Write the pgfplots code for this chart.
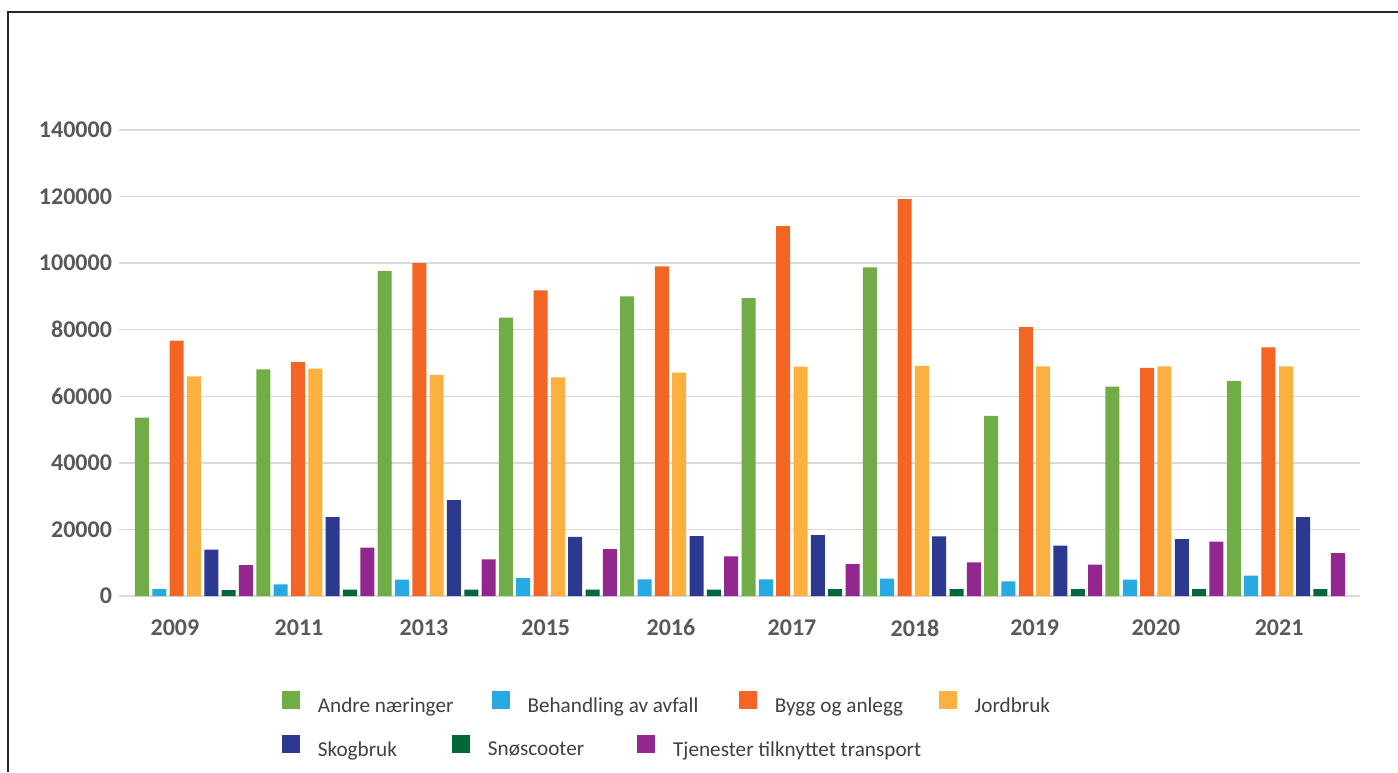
\documentclass[border=0pt]{standalone}
\usepackage{fontspec}
\setmainfont{Carlito}
\usepackage{pgfplots}
\pgfplotsset{compat=1.18}
\usepackage{pgfplotstable}

\definecolor{cA}{HTML}{70AD47}
\definecolor{cB}{HTML}{27AAE1}
\definecolor{cC}{HTML}{F26522}
\definecolor{cD}{HTML}{FBB040}
\definecolor{cE}{HTML}{2B3990}
\definecolor{cF}{HTML}{006838}
\definecolor{cG}{HTML}{92278F}
\definecolor{ticktext}{HTML}{595959}
\definecolor{legtext}{HTML}{404040}
\definecolor{gridc}{HTML}{D9D9D9}

\pgfplotstableread{
i A B C D E F G
0 53600 2100 76700 66000 13900 1800 9300
1 68100 3500 70300 68300 23700 1900 14500
2 97700 4900 100000 66400 28800 1900 11000
3 83600 5400 91800 65700 17800 1900 14100
4 90000 5000 99000 67100 18000 1900 11900
5 89500 5000 111100 68900 18300 2100 9600
6 98700 5200 119200 69100 17900 2100 10100
7 54100 4400 80800 69000 15100 2100 9400
8 62900 4900 68500 69000 17100 2100 16300
9 64600 6100 74700 69000 23700 2100 12900
}\data

\begin{document}
\begin{tikzpicture}
\useasboundingbox (-59.5pt,-88pt) rectangle (639.5pt,298pt);
\draw[line width=0.75pt, black!85] (-55.5pt,-88pt) -- (-55.5pt,292pt) -- (640pt,292pt);
\begin{axis}[
  at={(0pt,0pt)}, anchor=south west,
  scale only axis, width=620.5pt, height=233pt,
  xmin=-0.618, xmax=9.612, ymin=0, ymax=140000,
  axis line style={draw=none},
  major tick length=0pt, tick style={draw=none},
  ymajorgrids, grid style={gridc, line width=0.75pt},
  ytick={0,20000,40000,60000,80000,100000,120000,140000},
  yticklabels={0,20000,40000,60000,80000,100000,120000,140000},
  scaled y ticks=false,
  xtick={-0.157,0.866,1.896,2.900,3.932,4.930,5.944,6.931,7.929,8.945},
  xticklabels={2009,2011,2013,2015,2016,2017,2018,2019,2020,2021},
  ticklabel style={font=\fontsize{12}{14}\selectfont\bfseries, text=ticktext},
  xticklabel style={yshift=-8.2pt},
  ybar=1.667pt, bar width=7pt,
  legend image code/.code={\fill[#1] (0pt,-1.2pt) rectangle (9pt,7.8pt);},
  legend columns=4,
  legend style={at={(0.1309,-0.2339)}, anchor=west, draw=none, fill=none,
    inner sep=0pt, font=\fontsize{10.6}{12}\selectfont, text=legtext,
    /tikz/every odd column/.style={column sep=7pt},
    /tikz/column 2/.style={column sep=17pt},
    /tikz/column 4/.style={column sep=18.2pt},
    /tikz/column 6/.style={column sep=15.7pt}},
]
\addplot[fill=cA, draw=none] table[x=i,y=A]{\data};
\addlegendentry{Andre næringer}
\addplot[fill=cB, draw=none] table[x=i,y=B]{\data};
\addlegendentry{Behandling av avfall}
\addplot[fill=cC, draw=none] table[x=i,y=C]{\data};
\addlegendentry{Bygg og anlegg}
\addplot[fill=cD, draw=none] table[x=i,y=D]{\data};
\addlegendentry{Jordbruk}
\addplot[fill=cE, draw=none] table[x=i,y=E]{\data};
\addplot[fill=cF, draw=none] table[x=i,y=F]{\data};
\addplot[fill=cG, draw=none] table[x=i,y=G]{\data};
\end{axis}
\begin{axis}[
  at={(0pt,0pt)}, anchor=south west,
  scale only axis, width=620.5pt, height=233pt,
  xmin=0, xmax=1, ymin=0, ymax=1, hide axis,
  legend image code/.code={\fill[#1] (0pt,-1.2pt) rectangle (9pt,7.8pt);},
  legend columns=3,
  legend style={at={(0.1309,-0.3283)}, anchor=west, draw=none, fill=none,
    inner sep=0pt, font=\fontsize{10.6}{12}\selectfont, text=legtext,
    /tikz/every odd column/.style={column sep=7pt},
    /tikz/column 2/.style={column sep=25.5pt},
    /tikz/column 4/.style={column sep=24.4pt}},
]
\addlegendimage{fill=cE, draw=none}
\addlegendentry{Skogbruk}
\addlegendimage{fill=cF, draw=none}
\addlegendentry{Snøscooter}
\addlegendimage{fill=cG, draw=none}
\addlegendentry{Tjenester tilknyttet transport}
\end{axis}
\end{tikzpicture}
\end{document}
